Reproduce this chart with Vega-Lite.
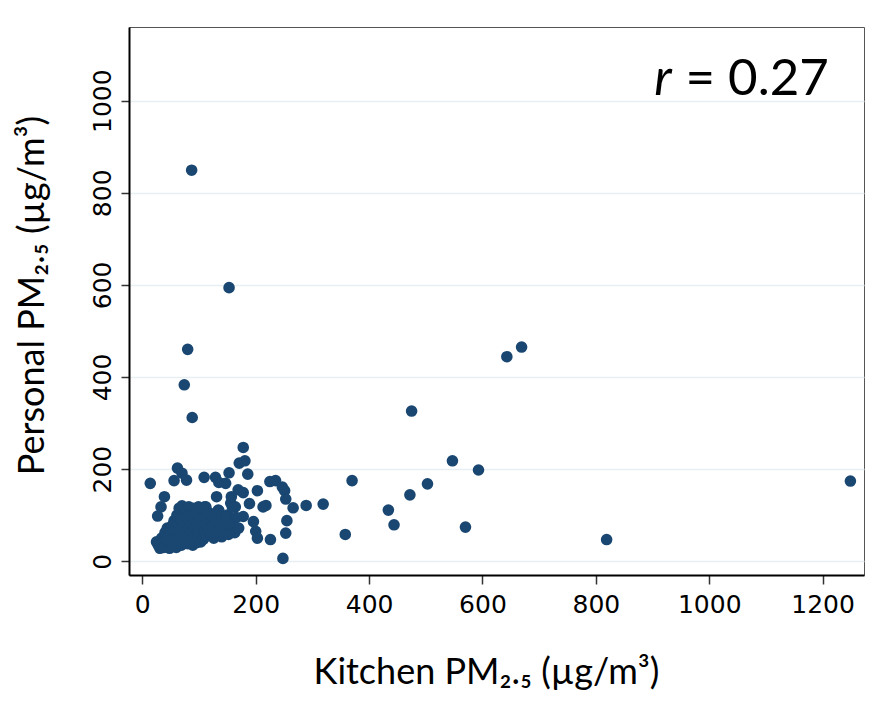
{
  "$schema": "https://vega.github.io/schema/vega-lite/v6.json",
  "width": 735,
  "height": 548,
  "autosize": {"type": "none"},
  "padding": {"left": 129, "top": 27, "right": 13, "bottom": 135},
  "background": "white",
  "config": {"view": {"stroke": "#555", "strokeWidth": 1}},
  "datasets": {
    "pts": [
      {"kitchen": 87, "personal": 849}, {"kitchen": 153, "personal": 594}, {"kitchen": 80, "personal": 460},
      {"kitchen": 74, "personal": 383}, {"kitchen": 88, "personal": 312}, {"kitchen": 475, "personal": 326},
      {"kitchen": 547, "personal": 218}, {"kitchen": 593, "personal": 198}, {"kitchen": 370, "personal": 175},
      {"kitchen": 503, "personal": 168}, {"kitchen": 472, "personal": 144}, {"kitchen": 434, "personal": 111},
      {"kitchen": 444, "personal": 79}, {"kitchen": 570, "personal": 74}, {"kitchen": 819, "personal": 47},
      {"kitchen": 358, "personal": 58}, {"kitchen": 319, "personal": 124}, {"kitchen": 289, "personal": 121},
      {"kitchen": 266, "personal": 116}, {"kitchen": 255, "personal": 88}, {"kitchen": 253, "personal": 61},
      {"kitchen": 248, "personal": 6}, {"kitchen": 226, "personal": 47}, {"kitchen": 218, "personal": 121},
      {"kitchen": 203, "personal": 153}, {"kitchen": 225, "personal": 173}, {"kitchen": 235, "personal": 175},
      {"kitchen": 247, "personal": 161}, {"kitchen": 251, "personal": 153}, {"kitchen": 253, "personal": 135},
      {"kitchen": 1249, "personal": 174}, {"kitchen": 643, "personal": 444}, {"kitchen": 669, "personal": 465},
      {"kitchen": 178, "personal": 247}, {"kitchen": 171, "personal": 213}, {"kitchen": 181, "personal": 218},
      {"kitchen": 186, "personal": 189}, {"kitchen": 153, "personal": 192}, {"kitchen": 109, "personal": 182},
      {"kitchen": 129, "personal": 182}, {"kitchen": 135, "personal": 171}, {"kitchen": 147, "personal": 169},
      {"kitchen": 169, "personal": 155}, {"kitchen": 178, "personal": 149}, {"kitchen": 131, "personal": 140},
      {"kitchen": 156, "personal": 126}, {"kitchen": 164, "personal": 118}, {"kitchen": 189, "personal": 125},
      {"kitchen": 213, "personal": 118}, {"kitchen": 134, "personal": 111}, {"kitchen": 178, "personal": 97},
      {"kitchen": 196, "personal": 86}, {"kitchen": 110, "personal": 118}, {"kitchen": 146, "personal": 72},
      {"kitchen": 155, "personal": 68}, {"kitchen": 200, "personal": 65}, {"kitchen": 203, "personal": 50},
      {"kitchen": 157, "personal": 140}, {"kitchen": 14, "personal": 169}, {"kitchen": 62, "personal": 202},
      {"kitchen": 70, "personal": 191}, {"kitchen": 56, "personal": 175}, {"kitchen": 78, "personal": 176},
      {"kitchen": 39, "personal": 140}, {"kitchen": 33, "personal": 118}, {"kitchen": 27, "personal": 98},
      {"kitchen": 25, "personal": 42}, {"kitchen": 31, "personal": 28}, {"kitchen": 28, "personal": 35},
      {"kitchen": 34, "personal": 50}, {"kitchen": 36, "personal": 40}, {"kitchen": 38, "personal": 30},
      {"kitchen": 40, "personal": 62}, {"kitchen": 42, "personal": 45}, {"kitchen": 44, "personal": 72},
      {"kitchen": 45, "personal": 35}, {"kitchen": 47, "personal": 55}, {"kitchen": 48, "personal": 28},
      {"kitchen": 50, "personal": 65}, {"kitchen": 51, "personal": 42}, {"kitchen": 53, "personal": 78},
      {"kitchen": 54, "personal": 50}, {"kitchen": 55, "personal": 33}, {"kitchen": 56, "personal": 88},
      {"kitchen": 57, "personal": 60}, {"kitchen": 58, "personal": 45}, {"kitchen": 59, "personal": 70},
      {"kitchen": 60, "personal": 30}, {"kitchen": 61, "personal": 100}, {"kitchen": 62, "personal": 52},
      {"kitchen": 63, "personal": 82}, {"kitchen": 64, "personal": 40}, {"kitchen": 65, "personal": 115},
      {"kitchen": 66, "personal": 65}, {"kitchen": 67, "personal": 48}, {"kitchen": 68, "personal": 92},
      {"kitchen": 69, "personal": 35}, {"kitchen": 70, "personal": 120}, {"kitchen": 71, "personal": 58},
      {"kitchen": 72, "personal": 75}, {"kitchen": 73, "personal": 105}, {"kitchen": 74, "personal": 43},
      {"kitchen": 75, "personal": 85}, {"kitchen": 76, "personal": 62}, {"kitchen": 77, "personal": 112},
      {"kitchen": 78, "personal": 50}, {"kitchen": 79, "personal": 95}, {"kitchen": 80, "personal": 38},
      {"kitchen": 81, "personal": 70}, {"kitchen": 82, "personal": 118}, {"kitchen": 83, "personal": 55},
      {"kitchen": 84, "personal": 88}, {"kitchen": 85, "personal": 45}, {"kitchen": 86, "personal": 102},
      {"kitchen": 87, "personal": 65}, {"kitchen": 88, "personal": 80}, {"kitchen": 89, "personal": 35},
      {"kitchen": 90, "personal": 115}, {"kitchen": 91, "personal": 58}, {"kitchen": 92, "personal": 92},
      {"kitchen": 93, "personal": 48}, {"kitchen": 94, "personal": 72}, {"kitchen": 95, "personal": 108},
      {"kitchen": 96, "personal": 40}, {"kitchen": 97, "personal": 82}, {"kitchen": 98, "personal": 62},
      {"kitchen": 99, "personal": 118}, {"kitchen": 100, "personal": 52}, {"kitchen": 101, "personal": 98},
      {"kitchen": 102, "personal": 70}, {"kitchen": 103, "personal": 42}, {"kitchen": 104, "personal": 88},
      {"kitchen": 105, "personal": 60}, {"kitchen": 106, "personal": 112}, {"kitchen": 107, "personal": 75},
      {"kitchen": 108, "personal": 48}, {"kitchen": 110, "personal": 95}, {"kitchen": 111, "personal": 65},
      {"kitchen": 112, "personal": 118}, {"kitchen": 113, "personal": 55}, {"kitchen": 114, "personal": 82},
      {"kitchen": 116, "personal": 70}, {"kitchen": 118, "personal": 105}, {"kitchen": 120, "personal": 60},
      {"kitchen": 122, "personal": 88}, {"kitchen": 124, "personal": 75}, {"kitchen": 126, "personal": 50},
      {"kitchen": 128, "personal": 98}, {"kitchen": 130, "personal": 65}, {"kitchen": 131, "personal": 57},
      {"kitchen": 133, "personal": 85}, {"kitchen": 135, "personal": 110}, {"kitchen": 137, "personal": 70},
      {"kitchen": 140, "personal": 53}, {"kitchen": 141, "personal": 95}, {"kitchen": 143, "personal": 62},
      {"kitchen": 145, "personal": 80}, {"kitchen": 148, "personal": 68}, {"kitchen": 150, "personal": 100},
      {"kitchen": 152, "personal": 58}, {"kitchen": 157, "personal": 88}, {"kitchen": 159, "personal": 117},
      {"kitchen": 160, "personal": 75}, {"kitchen": 163, "personal": 62}, {"kitchen": 166, "personal": 95},
      {"kitchen": 170, "personal": 72}
    ]
  },
  "layer": [
    {
      "data": {"name": "pts"},
      "mark": {"type": "circle", "size": 135, "opacity": 1, "color": "#1a4771"},
      "encoding": {
        "x": {
          "field": "kitchen",
          "type": "quantitative",
          "scale": {"domain": [-23.5, 1273], "nice": false, "zero": false},
          "axis": {
            "title": "Kitchen PM₂.₅ (µg/m³)",
            "values": [0, 200, 400, 600, 800, 1000, 1200],
            "format": "d",
            "grid": false,
            "domainColor": "black",
            "domainWidth": 2,
            "tickColor": "#333",
            "tickWidth": 1.5,
            "tickSize": 9,
            "labelFont": "DejaVu Sans",
            "labelFontSize": 25,
            "labelColor": "black",
            "labelPadding": 8,
            "labelFlush": false,
            "labelOverlap": false,
            "titleFont": "Lato",
            "titleFontSize": 36,
            "titleFontWeight": "normal",
            "titleColor": "black",
            "titleX": 357,
            "titleY": 108,
            "titleAlign": "center",
            "titleBaseline": "alphabetic"
          }
        },
        "y": {
          "field": "personal",
          "type": "quantitative",
          "scale": {"domain": [-30, 1160], "nice": false, "zero": false},
          "axis": {
            "title": "Personal PM₂.₅ (µg/m³)",
            "values": [0, 200, 400, 600, 800, 1000],
            "format": "d",
            "grid": true,
            "gridColor": "#e8eff3",
            "gridWidth": 1.5,
            "domainColor": "black",
            "domainWidth": 2,
            "tickColor": "#333",
            "tickWidth": 1.5,
            "tickSize": 8,
            "labelAngle": -90,
            "labelAlign": "center",
            "labelBaseline": "alphabetic",
            "labelPadding": 11,
            "labelFont": "DejaVu Sans",
            "labelFontSize": 25,
            "labelColor": "black",
            "labelOverlap": false,
            "labelFlush": false,
            "titleFont": "Lato",
            "titleFontSize": 36,
            "titleFontWeight": "normal",
            "titleColor": "black",
            "titleAngle": -90,
            "titleX": -86,
            "titleY": 268,
            "titleAlign": "center",
            "titleBaseline": "alphabetic"
          }
        }
      }
    },
    {
      "data": {"values": [{}]},
      "mark": {"type": "text", "text": "r", "font": "Lato", "fontStyle": "italic", "fontSize": 51, "align": "left", "baseline": "alphabetic", "color": "black"},
      "encoding": {
        "x": {"datum": 903, "type": "quantitative"},
        "y": {"datum": 1012, "type": "quantitative"}
      }
    },
    {
      "data": {"values": [{}]},
      "mark": {"type": "text", "text": "= 0.27", "font": "Lato", "fontSize": 51, "align": "left", "baseline": "alphabetic", "color": "black"},
      "encoding": {
        "x": {"datum": 958, "type": "quantitative"},
        "y": {"datum": 1012, "type": "quantitative"}
      }
    }
  ]
}
